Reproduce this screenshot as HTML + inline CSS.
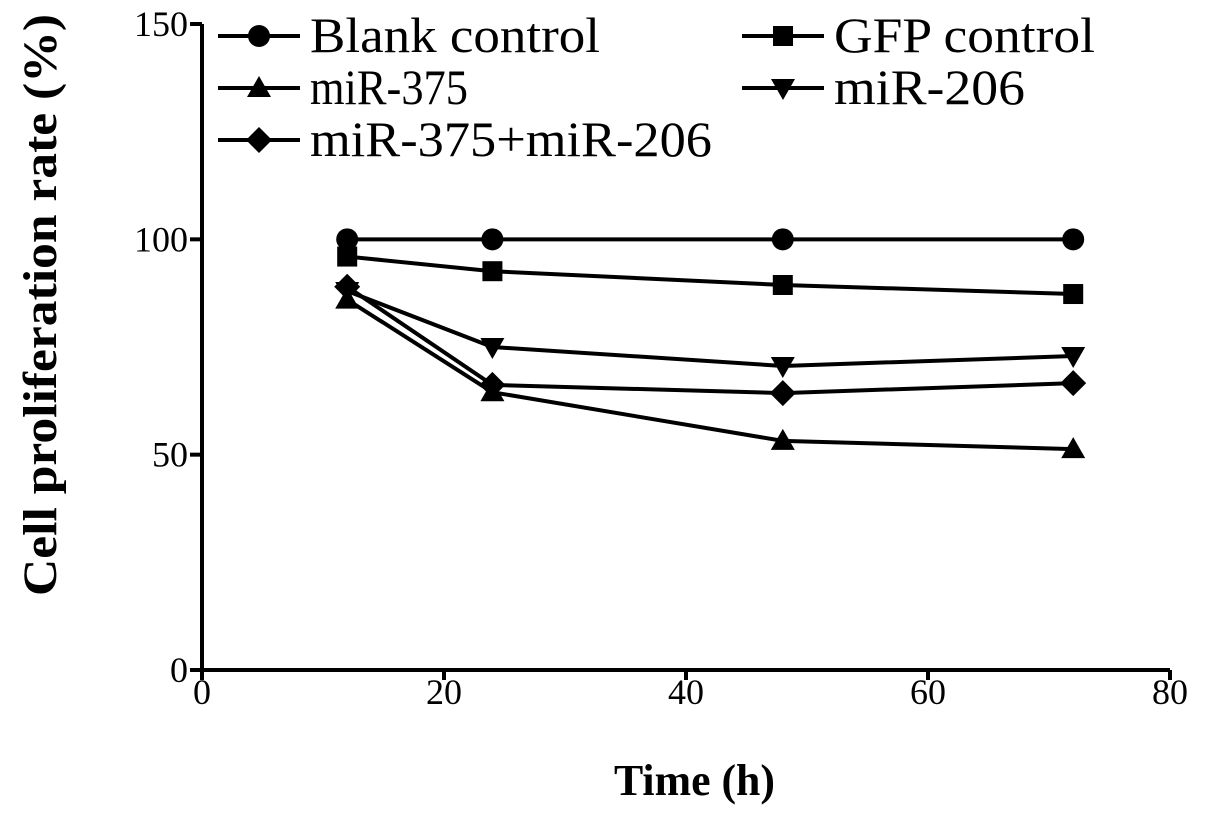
<!DOCTYPE html>
<html><head><meta charset="utf-8"><style>
html,body{margin:0;padding:0;background:#fff;}
svg{display:block;font-family:"Liberation Serif",serif;}
</style></head><body>
<svg id="chart" width="1205" height="815" viewBox="0 0 1205 815" xmlns="http://www.w3.org/2000/svg">
<g id="axes"></g>
<g id="series"></g>
<g id="legend"></g>
<text x="614" y="795" font-size="44" font-weight="bold" textLength="161" lengthAdjust="spacingAndGlyphs">Time (h)</text>
<text transform="translate(56,596) rotate(-90)" font-size="48" font-weight="bold" textLength="582" lengthAdjust="spacingAndGlyphs">Cell proliferation rate (%)</text>
</svg>
<script>
const times = [12, 24, 48, 72];
const seriesNames = ["Blank control","GFP control","miR-375","miR-206","miR-375+miR-206"];
const blank = [100, 100, 100, 100];
const gfp = [96, 92.6, 89.4, 87.3];
const mir375 = [86, 64.5, 53.2, 51.3];
const mir206 = [88, 75, 70.6, 72.9];
const combo = [89, 66.2, 64.3, 66.6];
const xTicks = [0, 20, 40, 60, 80];
const yTicks = [0, 50, 100, 150];

const NS="http://www.w3.org/2000/svg";
const x0=202,x1=1170,yb=670,yt=24;
const xs=v=>x0+(v/80)*(x1-x0);
const ys=v=>yb-(v/150)*(yb-yt);
function mk(tag,attrs,parent){const e=document.createElementNS(NS,tag);for(const k in attrs)e.setAttribute(k,attrs[k]);parent.appendChild(e);return e;}
const axes=document.getElementById('axes');
let e=mk('line',{x1:x0,y1:yb,x2:x1,y2:yb,stroke:'#000','stroke-width':4},axes);


e=mk('line',{x1:x0,y1:yb+2,x2:x0,y2:yt,stroke:'#000','stroke-width':4},axes);


xTicks.forEach(t=>{
  const tk=mk('line',{x1:xs(t),y1:yb,x2:xs(t),y2:yb+10,stroke:'#000','stroke-width':4},axes);
  
  
  const tl=mk('text',{x:xs(t),y:yb+34,'font-size':36,'text-anchor':'middle'},axes);tl.textContent=t;
  
  
});
yTicks.forEach(t=>{
  const tk=mk('line',{x1:x0-12,y1:ys(t),x2:x0,y2:ys(t),stroke:'#000','stroke-width':4},axes);
  
  
  const tl=mk('text',{x:x0-14,y:ys(t)+12,'font-size':36,'text-anchor':'end'},axes);tl.textContent=t;
  
  
});
function marker(type,cx,cy,parent){
  let m;
  if(type==='circle')m=mk('circle',{cx,cy,r:11,fill:'#000'},parent);
  else if(type==='square')m=mk('rect',{x:cx-10,y:cy-10,width:20,height:20,fill:'#000'},parent);
  else if(type==='up')m=mk('polygon',{points:`${cx},${cy-12} ${cx+12},${cy+9} ${cx-12},${cy+9}`,fill:'#000'},parent);
  else if(type==='down')m=mk('polygon',{points:`${cx},${cy+12} ${cx+12},${cy-9} ${cx-12},${cy-9}`,fill:'#000'},parent);
  else m=mk('polygon',{points:`${cx},${cy-13} ${cx+13},${cy} ${cx},${cy+13} ${cx-13},${cy}`,fill:'#000'},parent);
  return m;
}
const allData=[blank,gfp,mir375,mir206,combo];
const types=['circle','square','up','down','diamond'];
const keys=['blank-control','gfp-control','mir-375','mir-206','mir-375-mir-206'];
const sg=document.getElementById('series');
allData.forEach((d,i)=>{
  const g=mk('g',{},sg);
  
  
  const pl=mk('polyline',{points:d.map((v,j)=>xs(times[j])+','+ys(v)).join(' '),fill:'none',stroke:'#000','stroke-width':4},g);
  
  
  d.forEach((v,j)=>{
    const m=marker(types[i],xs(times[j]),ys(v),g);
    
    
  });
});
const lg=document.getElementById('legend');
const legPos=[[218,36],[742,36],[218,88],[742,88],[218,140]];
const legW=[290,261,158,191,402];
seriesNames.forEach((n,i)=>{
  const [lx,ly]=legPos[i];
  const g=mk('g',{},lg);
  
  
  mk('line',{x1:lx,y1:ly,x2:lx+82,y2:ly,stroke:'#000','stroke-width':4},g);
  marker(types[i],lx+41,ly,g);
  const t=mk('text',{x:lx+92,y:ly+16,'font-size':50,textLength:legW[i],lengthAdjust:'spacingAndGlyphs'},g);t.textContent=n;
});
</script>
</body></html>
